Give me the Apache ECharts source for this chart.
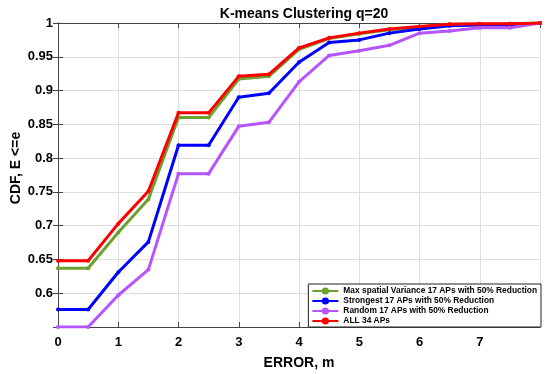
<!DOCTYPE html>
<html><head><meta charset="utf-8">
<script src="https://cdn.jsdelivr.net/npm/echarts@6/dist/echarts.min.js"></script>
<style>html,body{margin:0;padding:0;background:#fff}#c{width:550px;height:374px}</style>
</head><body><div id="c"></div>
<script>
const xs = [0,0.5,1,1.5,2,2.5,3,3.5,4,4.5,5,5.5,6,6.5,7,7.5,8];
const maxVar = [0.637,0.637,0.690,0.739,0.860,0.860,0.917,0.921,0.961,0.977,0.984,0.990,0.994,0.998,0.998,0.999,1.0];
const strongest = [0.576,0.576,0.631,0.676,0.819,0.819,0.890,0.896,0.942,0.971,0.975,0.985,0.991,0.996,0.997,0.997,1.0];
const random = [0.55,0.55,0.597,0.635,0.777,0.777,0.847,0.853,0.913,0.952,0.959,0.967,0.985,0.988,0.993,0.993,1.0];
const all34 = [0.648,0.648,0.703,0.751,0.867,0.867,0.921,0.924,0.963,0.978,0.985,0.991,0.995,0.998,0.999,0.999,1.0];
const names = ['Max spatial Variance 17 APs with 50% Reduction','Strongest 17 APs with 50% Reduction','Random 17 APs with 50% Reduction','ALL 34 APs'];
const colors = ['#6ba22f','#0000ff','#b655ff','#ff0000'];
const sets = [maxVar, strongest, random, all34];
const font = 'Liberation Sans, Arial, sans-serif';
const chart = echarts.init(document.getElementById('c'));
const series = sets.map((d,i)=>({
  name: names[i], type:'line', xAxisIndex:0, yAxisIndex:0,
  data: xs.map((x,j)=>[x,d[j]]),
  symbol:'circle', symbolSize:4, showSymbol:true,
  lineStyle:{width:3,color:colors[i]}, itemStyle:{color:colors[i]},
  z: 2+i, animation:false
}));
chart.setOption({
  animation:false,
  title:{text:'K-means Clustering q=20',left:299,top:2,textAlign:'center',
    textStyle:{fontFamily:font,fontSize:14,fontWeight:'bold',color:'#000'}},
  grid:{left:58,right:10,top:23,bottom:47,outerBoundsMode:'none',containLabel:false},
  legend:{orient:'vertical',right:9,bottom:47,backgroundColor:'#fff',borderColor:'#222',borderWidth:1,
    padding:[3,4,2,3],itemGap:2,itemWidth:26,itemHeight:9,
    textStyle:{fontFamily:font,fontSize:8.4,fontWeight:'bold',color:'#000'},data:names},
  xAxis:[{type:'value',min:0,max:8,interval:1,
    name:'ERROR, m',nameLocation:'middle',nameGap:29,nameMoveOverlap:false,
    nameTextStyle:{fontFamily:font,fontSize:14,fontWeight:'bold',color:'#000'},
    axisLine:{lineStyle:{color:'#444'}},axisTick:{inside:true,length:5,lineStyle:{color:'#444'}},
    axisLabel:{fontFamily:font,fontSize:13,fontWeight:'bold',color:'#000',margin:9,formatter:v=>v===8?'':String(v)},
    splitLine:{show:true,lineStyle:{color:'#dedede'}}},
   {type:'value',position:'top',min:0,max:8,interval:1,
    axisLine:{show:true,lineStyle:{color:'#444'}},axisTick:{inside:true,length:5,lineStyle:{color:'#444'}},
    axisLabel:{show:false},splitLine:{show:false}}],
  yAxis:[{type:'value',min:0.55,max:1,interval:0.05,
    name:'CDF, E <=e',nameLocation:'middle',nameGap:35,nameMoveOverlap:false,
    nameTextStyle:{fontFamily:font,fontSize:14,fontWeight:'bold',color:'#000',padding:[0,0,0,14]},
    axisLine:{show:true,lineStyle:{color:'#444'}},axisTick:{show:true,inside:true,length:5,lineStyle:{color:'#444'}},
    axisLabel:{fontFamily:font,fontSize:13,fontWeight:'bold',color:'#000',margin:5,
      formatter:v=>Math.abs(v-0.55)<1e-6?'':String(parseFloat(v.toFixed(2)))},
    splitLine:{show:true,lineStyle:{color:'#dedede'}}},
   {type:'value',position:'right',min:0.55,max:1,interval:0.05,
    axisLine:{show:true,lineStyle:{color:'#444'}},axisTick:{show:true,inside:true,length:5,lineStyle:{color:'#444'}},
    axisLabel:{show:false},splitLine:{show:false}}],
  series: series
});
</script></body></html>
